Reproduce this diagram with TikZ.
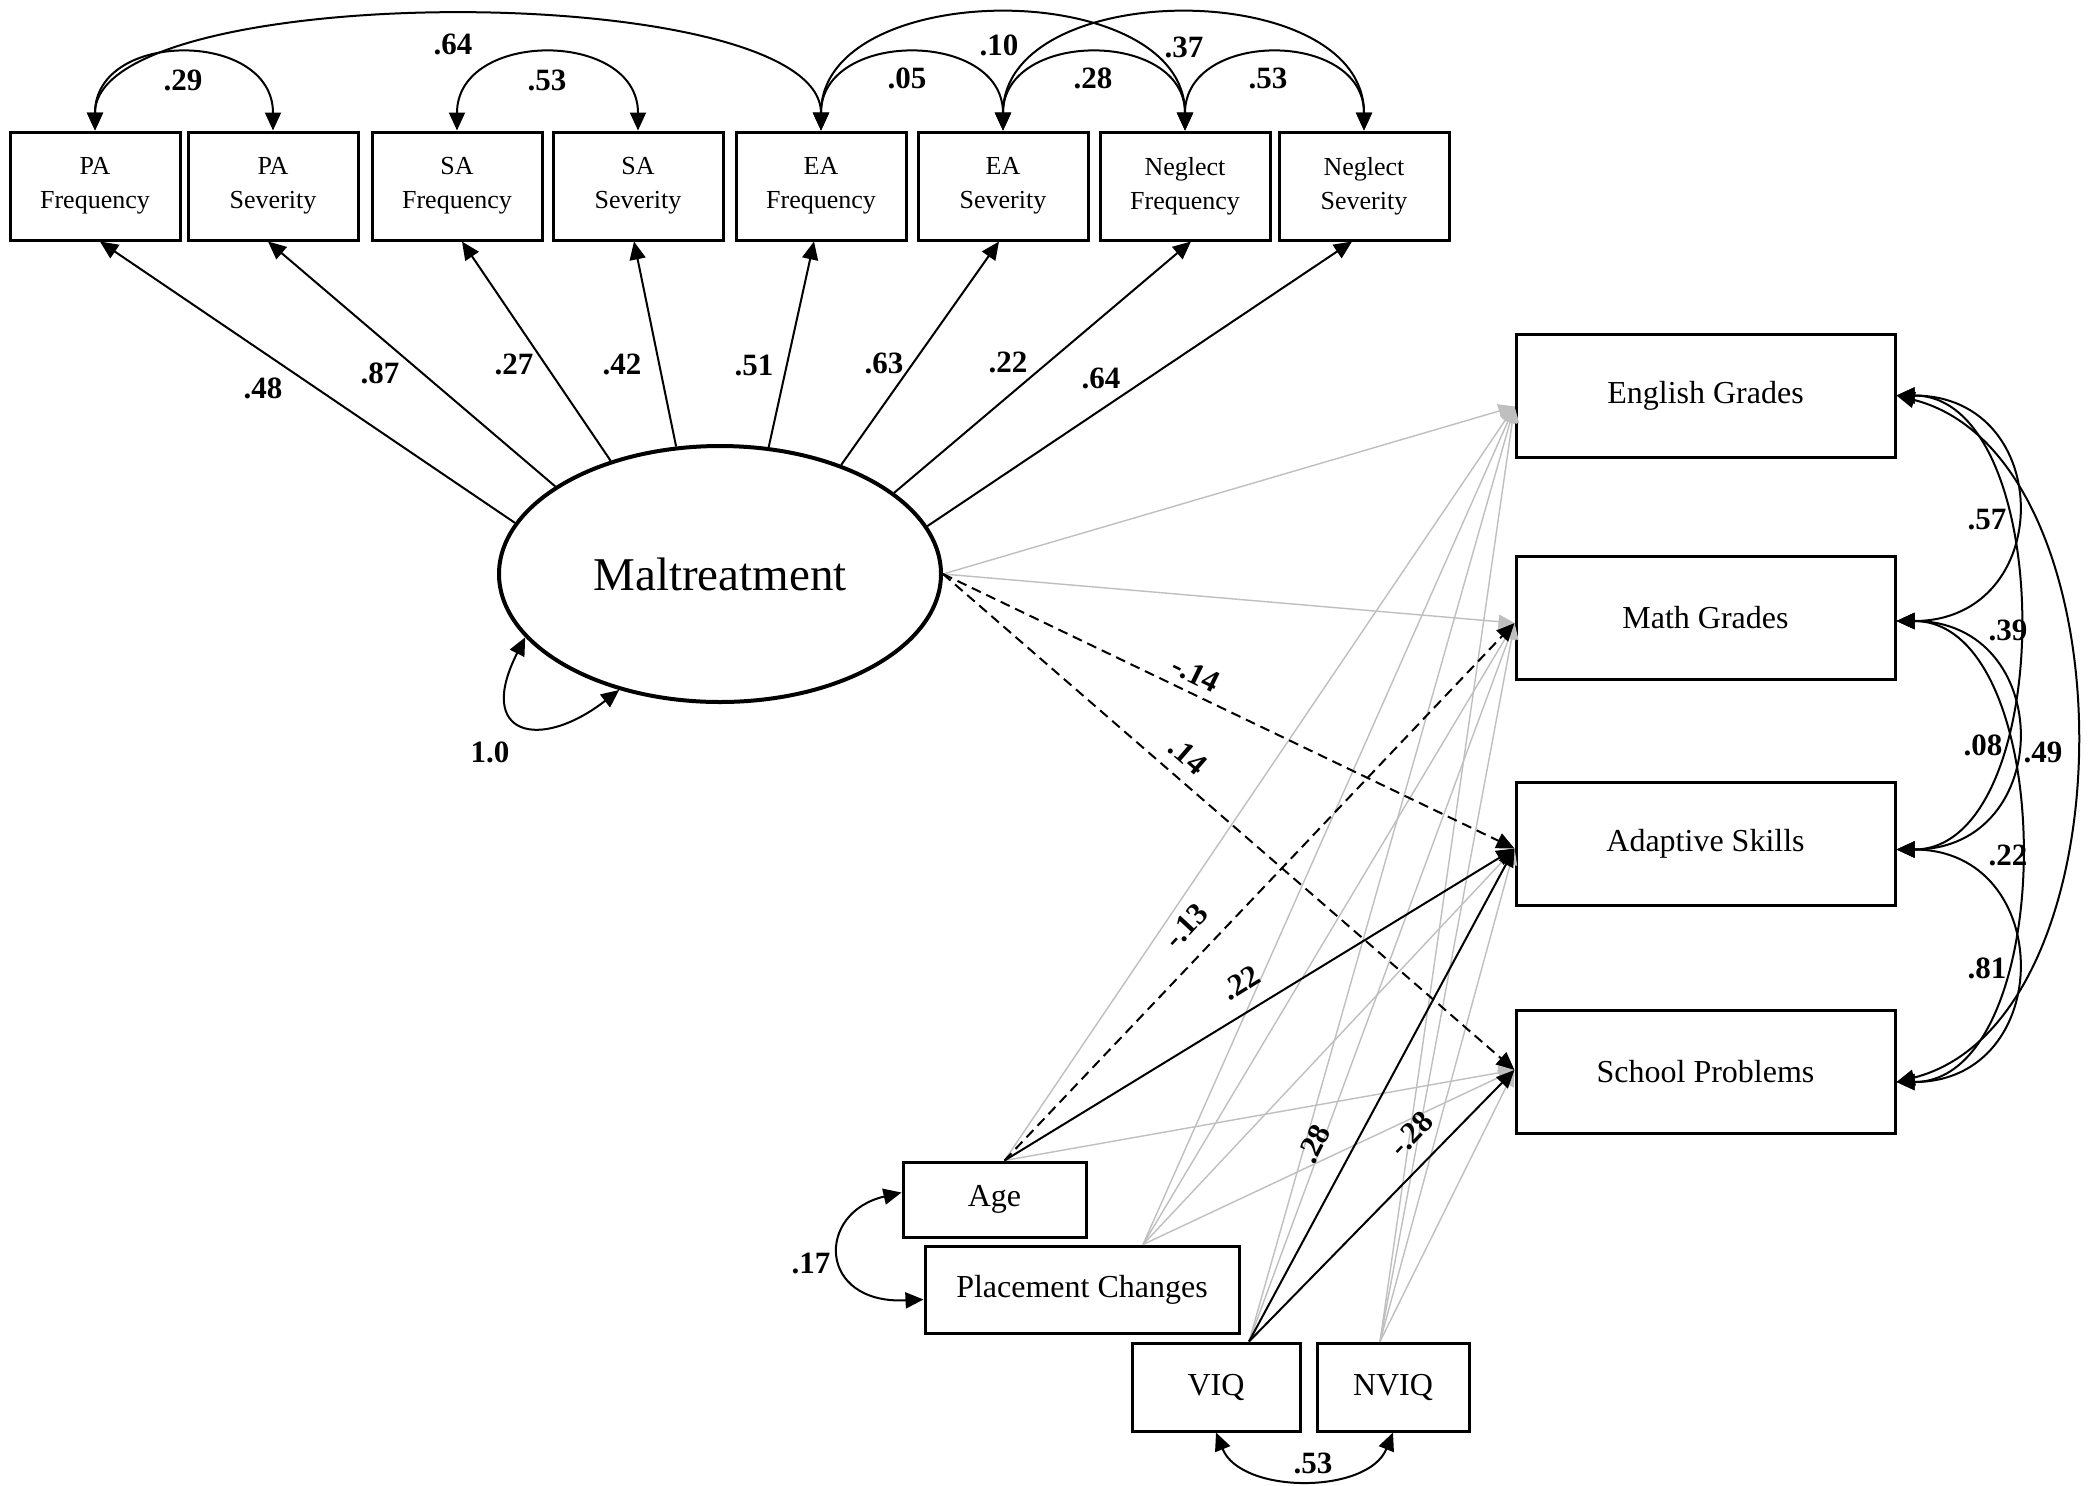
\documentclass[tikz,border=0pt]{standalone}
\usepackage{fontspec}
\setmainfont{Liberation Serif}
\usetikzlibrary{arrows.meta,shapes.geometric}
\begin{document}
\begin{tikzpicture}[x=0.5pt,y=-0.5pt,
  >={Triangle[length=9pt,width=8pt]},
  obs/.style={draw, line width=1.5pt, inner sep=0pt, align=center, minimum width=85pt, minimum height=54pt, font=\fontsize{13}{17}\selectfont},
  endo/.style={draw, line width=1.5pt, inner sep=0pt, minimum width=189.5pt, minimum height=61.5pt, font=\fontsize{16}{19}\selectfont},
  exo/.style={draw, line width=1.5pt, inner sep=0pt, font=\fontsize{16}{19}\selectfont},
  coef/.style={inner sep=0pt, font=\fontsize{15.5}{18}\selectfont\bfseries},
  load/.style={line width=1pt, ->},
  covar/.style={line width=1pt, <->},
  grayp/.style={line width=0.7pt, gray!50, -{Triangle[length=8pt,width=7pt]}},
  sig/.style={line width=1pt, ->},
  dsh/.style={line width=1pt, ->, dash pattern=on 5pt off 3pt}]
\fill[white] (0,0) rectangle (2100,1485);
\useasboundingbox (0,0) rectangle (2100,1485);

% indicator boxes
\node[obs] (paf) at (95,186) {PA\\Frequency};
\node[obs] (pas) at (273,186) {PA\\Severity};
\node[obs] (saf) at (457,186) {SA\\Frequency};
\node[obs] (sas) at (638,186) {SA\\Severity};
\node[obs] (eaf) at (821,186) {EA\\Frequency};
\node[obs] (eas) at (1003,186) {EA\\Severity};
\node[obs] (nef) at (1185,186) {Neglect\\Frequency};
\node[obs] (nes) at (1364,186) {Neglect\\Severity};

% latent
\node[draw, ellipse, line width=2pt, minimum width=221pt, minimum height=128pt, inner sep=0pt, font=\fontsize{23.5}{28}\selectfont] (mal) at (720,574) {Maltreatment};

% outcomes
\node[endo] (eng) at (1705.5,395.5) {English Grades};
\node[endo] (mat) at (1705.5,618) {Math Grades};
\node[endo] (ada) at (1705.5,843.5) {Adaptive Skills};
\node[endo] (sch) at (1705.5,1072) {School Problems};

% covariates
\node[exo, minimum width=91.5pt, minimum height=37.5pt] (age) at (994.5,1199.5) {Age};
\node[exo, minimum width=157pt, minimum height=43.5pt] (pc) at (1082,1289.5) {Placement Changes};
\node[exo, minimum width=84pt, minimum height=44pt] (viq) at (1216,1387) {VIQ};
\node[exo, minimum width=76pt, minimum height=44pt] (nviq) at (1393,1387) {NVIQ};

% anchor points
\coordinate (malE) at (mal.east);
\coordinate (ageT) at ([xshift=5pt]age.north);
\coordinate (pcT) at ([xshift=30.5pt]pc.north);
\coordinate (viqT) at ([xshift=16.5pt]viq.north);
\coordinate (nviqT) at ([xshift=-6.5pt]nviq.north);
\coordinate (engL) at ([yshift=-5.5pt]eng.west);
\coordinate (matL) at ([yshift=-2.5pt]mat.west);
\coordinate (adaL) at ([yshift=-2.5pt]ada.west);
\coordinate (schL) at ([yshift=1pt]sch.west);
\coordinate (engR) at (eng.east);
\coordinate (matR) at ([yshift=-1.5pt]mat.east);
\coordinate (adaR) at ([yshift=-3pt]ada.east);
\coordinate (schR) at ([yshift=-5pt]sch.east);

% loadings
\draw[load] (mal.166) -- ([xshift=2.5pt]paf.south);
\draw[load] (mal.152) -- ([xshift=-2.5pt]pas.south);
\draw[load] (mal.134) -- ([xshift=2.5pt]saf.south);
\draw[load] (mal.109) -- ([xshift=-2pt]sas.south);
\draw[load] (mal.69) -- ([xshift=-3.5pt]eaf.south);
\draw[load] (mal.42) -- ([xshift=-2pt]eas.south);
\draw[load] (mal.25) -- ([xshift=3pt]nef.south);
\draw[load] (mal.13) -- ([xshift=-6pt]nes.south);
\node[coef] at (263,388) {.48};
\node[coef] at (380,373) {.87};
\node[coef] at (514,364) {.27};
\node[coef] at (622,364) {.42};
\node[coef] at (754,365) {.51};
\node[coef] at (884,363) {.63};
\node[coef] at (1008,362) {.22};
\node[coef] at (1101,378) {.64};

% indicator covariances
\draw[covar] (paf.north) .. controls +(0,-101) and +(0,-101) .. (pas.north);
\draw[covar] (paf.north) .. controls +(0,-152) and +(0,-152) .. (eaf.north);
\draw[covar] (saf.north) .. controls +(0,-101) and +(0,-101) .. (sas.north);
\draw[covar] (eaf.north) .. controls +(0,-101) and +(0,-101) .. (eas.north);
\draw[covar] (eaf.north) .. controls +(0,-154) and +(0,-154) .. (nef.north);
\draw[covar] (eas.north) .. controls +(0,-101) and +(0,-101) .. (nef.north);
\draw[covar] (eas.north) .. controls +(0,-154) and +(0,-154) .. (nes.north);
\draw[covar] (nef.north) .. controls +(0,-101) and +(0,-101) .. (nes.north);
\node[coef] at (183,80) {.29};
\node[coef] at (453,44) {.64};
\node[coef] at (547,80) {.53};
\node[coef] at (907,78) {.05};
\node[coef] at (999,45) {.10};
\node[coef] at (1093,78) {.28};
\node[coef] at (1184,47) {.37};
\node[coef] at (1268,78) {.53};

% variance
\draw[covar] (mal.198) .. controls +(-50,98) and +(-80,62) .. (mal.229);
\node[coef] at (490,752) {1.0};

% non-significant paths
\draw[grayp] (malE) -- (engL);
\draw[grayp] (malE) -- (matL);
\draw[grayp] (ageT) -- (engL);
\draw[grayp] (ageT) -- (schL);
\draw[grayp] (pcT) -- (engL);
\draw[grayp] (pcT) -- (matL);
\draw[grayp] (pcT) -- (adaL);
\draw[grayp] (pcT) -- (schL);
\draw[grayp] (viqT) -- (engL);
\draw[grayp] (viqT) -- (matL);
\draw[grayp] (nviqT) -- (engL);
\draw[grayp] (nviqT) -- (matL);
\draw[grayp] (nviqT) -- (adaL);
\draw[grayp] (nviqT) -- (schL);

% significant paths
\draw[dsh] (malE) -- (adaL);
\draw[dsh] (malE) -- (schL);
\draw[dsh] (ageT) -- (matL);
\draw[sig] (ageT) -- (adaL);
\draw[sig] (viqT) -- (adaL);
\draw[sig] (viqT) -- (schL);
\node[coef, rotate=-26] at (1196,674) {-.14};
\node[coef, rotate=-41] at (1188,756) {.14};
\node[coef, rotate=47] at (1186,926) {-.13};
\node[coef, rotate=32] at (1241,983) {.22};
\node[coef, rotate=63] at (1314,1144) {.28};
\node[coef, rotate=46] at (1411,1134) {-.28};

% outcome covariances
\draw[covar] (engR) .. controls +(160,0) and +(160,0) .. (matR);
\draw[covar] (engR) .. controls +(162,0) and +(162,0) .. (adaR);
\draw[covar] (engR) .. controls +(238,60) and +(238,-60) .. (schR);
\draw[covar] (matR) .. controls +(160,0) and +(160,0) .. (adaR);
\draw[covar] (matR) .. controls +(164,0) and +(164,0) .. (schR);
\draw[covar] (adaR) .. controls +(160,0) and +(160,0) .. (schR);
\node[coef] at (1987,520) {.57};
\node[coef] at (2008,630) {.39};
\node[coef] at (2043,752) {.49};
\node[coef] at (1983,745) {.08};
\node[coef] at (2008,855) {.22};
\node[coef] at (1987,968) {.81};

% covariate covariances
\draw[covar] ([yshift=3.5pt]age.west) .. controls +(-86,20) and +(-106,5) .. ([yshift=-5pt]pc.west);
\node[coef] at (811,1263) {.17};
\draw[covar] (viq.south) .. controls +(25,62) and +(-25,62) .. (nviq.south);
\node[coef] at (1313,1463) {.53};
\end{tikzpicture}
\end{document}
